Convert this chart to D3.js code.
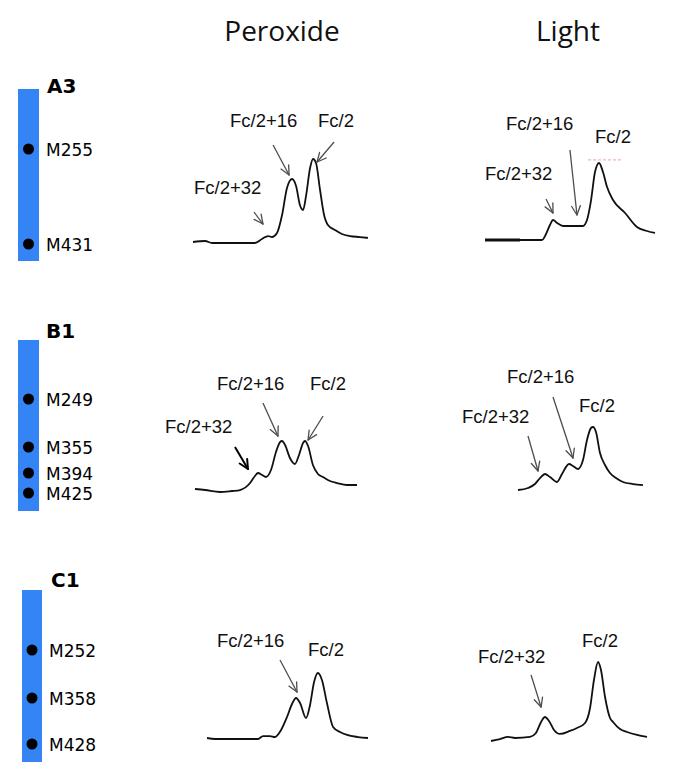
<!DOCTYPE html>
<html>
<head>
<meta charset="utf-8">
<script src="https://d3js.org/d3.v7.min.js"></script>
<style>
  body { margin: 0; background: #fff; }
  svg { display: block; }
</style>
</head>
<body>
<div id="chart"></div>
<script>
// column headers and constructs
const conditions = ["Peroxide", "Light"];
const constructs = ["A3", "B1", "C1"];

// methionine sites on each construct
const sitesA3 = ["M255", "M431"];
const sitesB1 = ["M249", "M355", "M394", "M425"];
const sitesC1 = ["M252", "M358", "M428"];

// elution traces: scan position (0-100) and relative intensity (0-100)
const peroxideA3Scan = [0, 6.9, 10.9, 35.4, 39.4, 42.9, 45.1, 48.0, 50.9, 53.7, 56.6, 58.9, 61.1, 62.9, 64.6, 66.9, 68.6, 70.3, 72.6, 74.9, 77.1, 81.1, 85.1, 89.7, 95.4, 100];
const peroxideA3Int  = [1.2, 2.4, 0, 0, 4.8, 8.3, 7.1, 11.9, 33.3, 65.5, 76.2, 67.9, 45.2, 39.3, 56.0, 89.3, 100, 95.2, 63.1, 33.3, 21.4, 15.5, 10.7, 8.3, 7.1, 6.0];

const lightA3Scan = [0, 20.6, 33.5, 35.9, 38.2, 40.0, 42.4, 45.9, 57.6, 60.0, 62.4, 64.7, 67.1, 69.4, 71.8, 75.3, 82.4, 89.4, 95.3, 100];
const lightA3Int  = [0, 0, 0, 7.8, 19.5, 26.0, 22.1, 18.2, 18.2, 26.0, 51.9, 88.3, 100, 88.3, 68.8, 51.9, 35.1, 16.9, 11.7, 9.1];

const peroxideB1Scan = [0, 6.2, 15.4, 22.8, 27.8, 34.0, 37.0, 38.9, 41.4, 43.8, 46.9, 50.0, 52.5, 53.7, 55.6, 58.6, 61.7, 64.2, 66.7, 67.9, 69.8, 72.8, 75.9, 79.0, 83.3, 87.7, 93.8, 100];
const peroxideB1Int  = [5.9, 3.9, 0, 2.0, 3.9, 17.6, 31.4, 37.3, 33.3, 29.4, 43.1, 78.4, 98.0, 100, 92.2, 66.7, 54.9, 72.5, 96.1, 100, 90.2, 52.9, 35.3, 29.4, 21.6, 17.6, 13.7, 13.7];

const lightB1Scan = [0, 8, 13.6, 17.6, 21.6, 25.6, 31.2, 35.2, 40.8, 44.0, 48.0, 52.0, 55.2, 58.4, 60.0, 62.4, 65.6, 69.6, 73.6, 78.4, 84.0, 92.0, 100];
const lightB1Int  = [0, 3.2, 9.5, 19.0, 25.4, 20.6, 12.7, 25.4, 41.3, 38.1, 33.3, 47.6, 79.4, 98.4, 100, 92.1, 58.7, 39.7, 27.0, 19.0, 12.7, 9.5, 7.9];

const peroxideC1Scan = [0, 5.0, 31.7, 34.8, 39.1, 42.2, 46.0, 49.7, 52.8, 55.3, 57.8, 61.5, 64.0, 66.5, 68.9, 71.4, 74.5, 78.3, 82.6, 87.0, 93.8, 100];
const peroxideC1Int  = [1.5, 0, 0, 4.5, 4.5, 3.0, 13.6, 33.3, 53.0, 62.1, 54.5, 31.8, 51.5, 86.4, 100, 89.4, 54.5, 18.2, 10.6, 6.1, 3.0, 1.5];

const lightC1Scan = [0, 5.8, 10.9, 15.4, 25.0, 28.8, 32.1, 34.6, 37.2, 40.4, 44.2, 50.6, 55.1, 60.3, 63.5, 66.0, 68.6, 70.5, 73.1, 76.3, 78.2, 82.7, 87.2, 93.6, 100];
const lightC1Int  = [0, 2.5, 5.1, 3.8, 5.1, 10.1, 24.1, 30.4, 25.3, 13.9, 8.9, 12.7, 16.5, 22.8, 41.8, 77.2, 100, 89.9, 55.7, 29.1, 24.1, 15.2, 11.4, 7.6, 5.1];

// peak annotations: label, arrow tip [scan, intensity]
const annA3Peroxide = [["Fc/2+16", 54.9, 81.0], ["Fc/2", 70.9, 96.4], ["Fc/2+32", 40.0, 22.6]];
const annA3Light    = [["Fc/2+16", 54.1, 32.5], ["Fc/2", null, null], ["Fc/2+32", 40.0, 35.1]];
const annB1Peroxide = [["Fc/2+16", 51.2, 109.8], ["Fc/2", 69.8, 102.0], ["Fc/2+32", 32.7, 45.1]];
const annB1Light    = [["Fc/2+16", 44.0, 50.8], ["Fc/2", null, null], ["Fc/2+32", 16.0, 30.2]];
const annC1Peroxide = [["Fc/2+16", 55.9, 71.2], ["Fc/2", null, null]];
const annC1Light    = [["Fc/2+32", 32.1, 43.0], ["Fc/2", null, null]];

// ---------------- layout ----------------
const W = 673, H = 778;
const blue = "#3584f5";
const arrowGrey = "#4d4d4d";
const labelFont = "'Liberation Sans', Arial, sans-serif";
const siteFont = "'DejaVu Sans', Verdana, sans-serif";

const svg = d3.select("#chart").append("svg")
  .attr("width", W).attr("height", H);

// headers
const headerX = { Peroxide: 282, Light: 568 };
svg.selectAll("text.header")
  .data(conditions)
  .enter().append("text")
  .attr("class", "header")
  .attr("x", d => headerX[d])
  .attr("y", 41)
  .attr("text-anchor", "middle")
  .style("font-family", "'Open Sans', sans-serif")
  .style("font-size", "28px")
  .attr("fill", "#111")
  .text(d => d);

// construct bars
const barLayout = {
  A3: { x: 18, w: 21, y0: 89, y1: 261, tx: 47, ty: 93, sites: sitesA3, sy: [149, 244] },
  B1: { x: 18, w: 21, y0: 340, y1: 511, tx: 46, ty: 338, sites: sitesB1, sy: [399, 447, 473, 493] },
  C1: { x: 22, w: 20, y0: 590, y1: 762, tx: 51, ty: 587, sites: sitesC1, sy: [650, 698, 744] }
};

constructs.forEach(c => {
  const b = barLayout[c];
  const g = svg.append("g");
  g.append("rect")
    .attr("x", b.x).attr("y", b.y0)
    .attr("width", b.w).attr("height", b.y1 - b.y0)
    .attr("fill", blue);
  g.append("text")
    .attr("x", b.tx).attr("y", b.ty)
    .style("font-family", siteFont)
    .style("font-weight", "bold")
    .style("font-size", "20px")
    .text(c);
  const cx = b.x + b.w / 2;
  g.selectAll("circle")
    .data(b.sites)
    .enter().append("circle")
    .attr("cx", cx)
    .attr("cy", (d, i) => b.sy[i])
    .attr("r", 5.5)
    .attr("fill", "#000");
  g.selectAll("text.site")
    .data(b.sites)
    .enter().append("text")
    .attr("class", "site")
    .attr("x", b.x + b.w + 7)
    .attr("y", (d, i) => b.sy[i] + 1)
    .attr("dominant-baseline", "central")
    .style("font-family", siteFont)
    .style("font-size", "17px")
    .text(d => d);
});

// trace panels
const panels = [
  { scan: peroxideA3Scan, inten: peroxideA3Int, ann: annA3Peroxide, x0: 193, w: 175, base: 243, h: 84,
    text: [[230, 127], [318, 127], [194, 194]], tail: [[-16, -30], [17, -20], [-9, -12]] },
  { scan: lightA3Scan, inten: lightA3Int, ann: annA3Light, x0: 485, w: 170, base: 240, h: 77,
    text: [[506, 130], [595, 143], [485, 180]], tail: [[-7, -65], null, [-7, -14]], thick: 20.6, ref: [60.6, 80.6, 104] },
  { scan: peroxideB1Scan, inten: peroxideB1Int, ann: annB1Peroxide, x0: 195, w: 162, base: 492, h: 51,
    text: [[217, 390], [310, 390], [165, 433]], tail: [[-15, -33], [15, -24], [-13, -22]], dark: 2 },
  { scan: lightB1Scan, inten: lightB1Int, ann: annB1Light, x0: 518, w: 125, base: 490, h: 63,
    text: [[507, 383], [579, 412], [462, 423]], tail: [[-20, -61], null, [-10, -35]] },
  { scan: peroxideC1Scan, inten: peroxideC1Int, ann: annC1Peroxide, x0: 207, w: 161, base: 739, h: 66,
    text: [[217, 647], [308, 656]], tail: [[-17, -32], null] },
  { scan: lightC1Scan, inten: lightC1Int, ann: annC1Light, x0: 491, w: 156, base: 741, h: 79,
    text: [[478, 663], [582, 647]], tail: [[-10, -32], null] }
];

function drawArrow(g, x1, y1, x2, y2, color, width) {
  g.append("line")
    .attr("x1", x1).attr("y1", y1).attr("x2", x2).attr("y2", y2)
    .attr("stroke", color).attr("stroke-width", width);
  const a = Math.atan2(y2 - y1, x2 - x1);
  const len = 10, spread = 0.45;
  [a + Math.PI - spread, a + Math.PI + spread].forEach(t => {
    g.append("line")
      .attr("x1", x2).attr("y1", y2)
      .attr("x2", x2 + len * Math.cos(t))
      .attr("y2", y2 + len * Math.sin(t))
      .attr("stroke", color).attr("stroke-width", width)
      .attr("stroke-linecap", "round");
  });
}

panels.forEach(p => {
  const g = svg.append("g");
  const x = d3.scaleLinear().domain([0, 100]).range([p.x0, p.x0 + p.w]);
  const y = d3.scaleLinear().domain([0, 100]).range([p.base, p.base - p.h]);
  const pts = p.scan.map((s, i) => [s, p.inten[i]]);

  const line = d3.line().x(d => x(d[0])).y(d => y(d[1])).curve(d3.curveMonotoneX);

  if (p.ref) {
    g.append("line")
      .attr("x1", x(p.ref[0])).attr("x2", x(p.ref[1]))
      .attr("y1", y(p.ref[2])).attr("y2", y(p.ref[2]))
      .attr("stroke", "#eaa6a6").attr("stroke-width", 1)
      .attr("stroke-dasharray", "3,2");
  }

  g.append("path")
    .datum(pts)
    .attr("d", line)
    .attr("fill", "none")
    .attr("stroke", "#111")
    .attr("stroke-width", 1.8)
    .attr("stroke-linejoin", "round");

  if (p.thick != null) {
    g.append("path")
      .datum(pts.filter(d => d[0] <= p.thick))
      .attr("d", line)
      .attr("fill", "none")
      .attr("stroke", "#111")
      .attr("stroke-width", 3);
  }

  p.ann.forEach((a, i) => {
    g.append("text")
      .attr("x", p.text[i][0]).attr("y", p.text[i][1])
      .style("font-family", labelFont)
      .style("font-size", "18.5px")
      .attr("fill", "#111")
      .text(a[0]);
    if (a[1] != null && p.tail[i]) {
      const tx = x(a[1]), ty = y(a[2]);
      const isDark = p.dark === i;
      drawArrow(g, tx + p.tail[i][0], ty + p.tail[i][1], tx, ty,
        isDark ? "#000" : arrowGrey, isDark ? 2 : 1.3);
    }
  });
});
</script>
</body>
</html>
